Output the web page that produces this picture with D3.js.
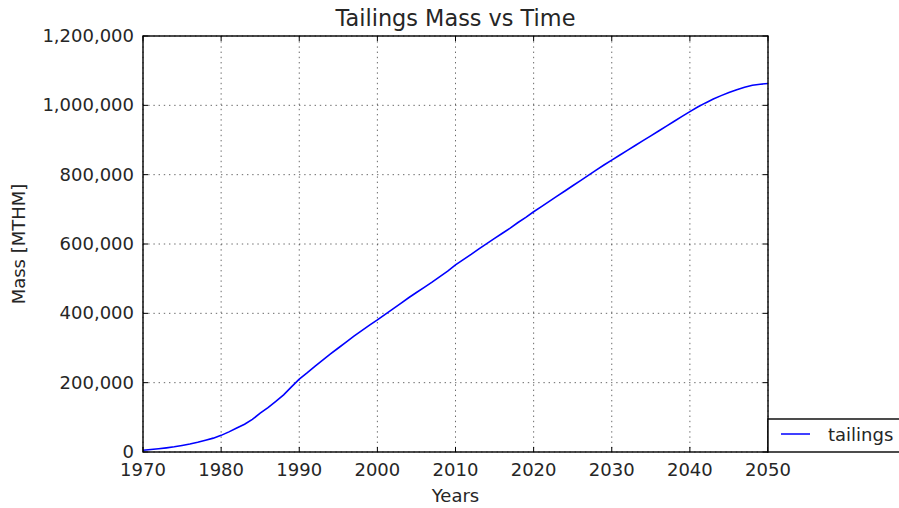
<!DOCTYPE html>
<html>
<head>
<meta charset="utf-8">
<title>Tailings Mass vs Time</title>
<script src="https://cdn.jsdelivr.net/npm/d3@7"></script>
<style>
    body { margin: 0; background: #fff; }
    svg text { font-family: "DejaVu Sans", sans-serif; fill: #262626; }
</style>
</head>
<body>
<div id="chartdiv"></div>
<script>
/*jslint browser, white */
/*global d3 */

var years = d3.range(1970, 2051),
    //tailings mass per year
    tailings = [
        5000, 7000, 9500, 12000, 15000, 19000, 23000, 28000, 34000, 40000,
        48000, 58000, 69000, 80000, 94000, 112000, 128000, 146000, 165000, 188000,
        210000, 228000, 247000, 265000, 283000, 300000, 317000, 334000, 350000, 366000,
        381000, 397000, 413000, 429000, 445000, 460000, 475000, 490000, 506000, 522000,
        540000, 555000, 570000, 586000, 601000, 616000, 631000, 646000, 662000, 677000,
        693000, 708000, 723000, 738000, 753000, 768000, 783000, 798000, 813000, 828000,
        842000, 856000, 870000, 884000, 898000, 912000, 926000, 940000, 954000, 968000,
        982000, 995000, 1007000, 1018000, 1028000, 1037000, 1045000, 1052000, 1058000, 1061000,
        1063000],
    xticks = [1970, 1980, 1990, 2000, 2010, 2020, 2030, 2040, 2050],
    yticks = [0, 200000, 400000, 600000, 800000, 1000000, 1200000],
    seriesName = "tailings";

(function () {
    "use strict";

    var W = 899, H = 508,
        pl = 143, pr = 768, pt = 36, pb = 452,
        ticklen = 5, fs = 18,
        svg, x, y, g, line;

    svg = d3.select("#chartdiv").append("svg")
        .attr("width", W)
        .attr("height", H);

    x = d3.scaleLinear().domain([1970, 2050]).range([pl, pr]);
    y = d3.scaleLinear().domain([0, 1200000]).range([pb, pt]);

    //dotted grid
    g = svg.append("g").attr("class", "grid");
    g.selectAll("line.gx").data(xticks).enter().append("line")
        .attr("x1", function (d) { return x(d); })
        .attr("x2", function (d) { return x(d); })
        .attr("y1", pt).attr("y2", pb)
        .attr("stroke", "#444")
        .attr("stroke-width", 0.8)
        .attr("stroke-dasharray", "1.4,3.8");
    g.selectAll("line.gy").data(yticks).enter().append("line")
        .attr("y1", function (d) { return y(d); })
        .attr("y2", function (d) { return y(d); })
        .attr("x1", pl).attr("x2", pr)
        .attr("stroke", "#444")
        .attr("stroke-width", 0.8)
        .attr("stroke-dasharray", "1.4,3.8");

    //data line
    line = d3.line()
        .x(function (d, i) { return x(years[i]); })
        .y(function (d) { return y(d); });
    svg.append("path")
        .datum(tailings)
        .attr("d", line)
        .attr("fill", "none")
        .attr("stroke", "#0000ff")
        .attr("stroke-width", 1.6);

    //inward ticks on all four sides, classic style
    g = svg.append("g").attr("class", "ticks")
        .attr("stroke", "#000").attr("stroke-width", 1);
    xticks.forEach(function (t) {
        g.append("line").attr("x1", x(t)).attr("x2", x(t))
            .attr("y1", pb).attr("y2", pb - ticklen);
        g.append("line").attr("x1", x(t)).attr("x2", x(t))
            .attr("y1", pt).attr("y2", pt + ticklen);
    });
    yticks.forEach(function (t) {
        g.append("line").attr("y1", y(t)).attr("y2", y(t))
            .attr("x1", pl).attr("x2", pl + ticklen);
        g.append("line").attr("y1", y(t)).attr("y2", y(t))
            .attr("x1", pr).attr("x2", pr - ticklen);
    });

    //frame
    svg.append("rect")
        .attr("x", pl).attr("y", pt)
        .attr("width", pr - pl).attr("height", pb - pt)
        .attr("fill", "none")
        .attr("stroke", "#000")
        .attr("stroke-width", 1.4);

    //tick labels
    svg.selectAll("text.xt").data(xticks).enter().append("text")
        .attr("x", function (d) { return x(d); })
        .attr("y", 476)
        .attr("text-anchor", "middle")
        .attr("font-size", fs)
        .text(function (d) { return String(d); });
    svg.selectAll("text.yt").data(yticks).enter().append("text")
        .attr("x", pl - 9)
        .attr("y", function (d) { return y(d); })
        .attr("dy", "0.34em")
        .attr("text-anchor", "end")
        .attr("font-size", fs)
        .text(d3.format(","));

    //title and axis labels
    svg.append("text")
        .attr("x", (pl + pr) / 2).attr("y", 26)
        .attr("text-anchor", "middle")
        .attr("font-size", 22.4)
        .text("Tailings Mass vs Time");
    svg.append("text")
        .attr("x", (pl + pr) / 2).attr("y", 502)
        .attr("text-anchor", "middle")
        .attr("font-size", fs)
        .text("Years");
    svg.append("text")
        .attr("transform", "translate(25," + ((pt + pb) / 2) + ") rotate(-90)")
        .attr("text-anchor", "middle")
        .attr("font-size", fs)
        .text("Mass [MTHM]");

    //legend, hangs off the lower right corner
    g = svg.append("g").attr("class", "legend");
    g.append("rect")
        .attr("x", pr).attr("y", 419)
        .attr("width", 140).attr("height", pb - 419)
        .attr("fill", "#fff")
        .attr("stroke", "#000")
        .attr("stroke-width", 1.4);
    g.append("line")
        .attr("x1", 781).attr("x2", 810)
        .attr("y1", 434).attr("y2", 434)
        .attr("stroke", "#0000ff")
        .attr("stroke-width", 1.5);
    g.append("text")
        .attr("x", 828).attr("y", 441)
        .attr("font-size", fs)
        .text(seriesName);
}());
</script>
</body>
</html>
